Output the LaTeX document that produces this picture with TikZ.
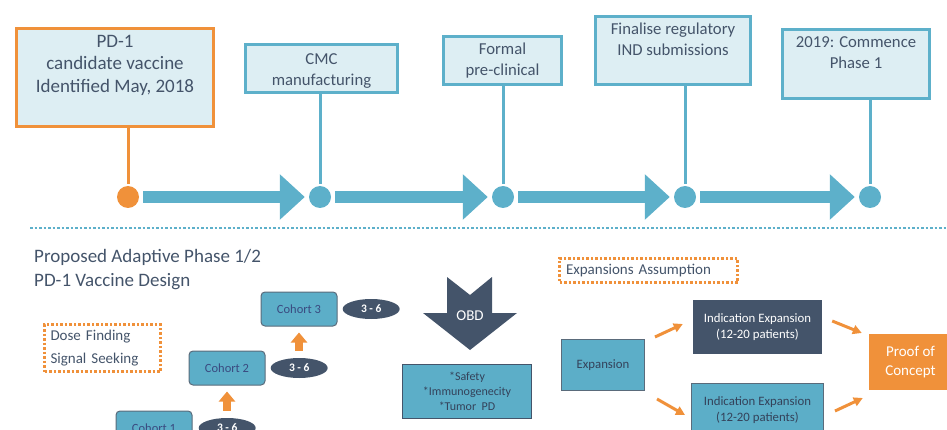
\documentclass[tikz,border=0pt]{standalone}
\usepackage{fontspec}
\setmainfont{Carlito}
\usetikzlibrary{positioning,shapes.geometric,arrows.meta}
\definecolor{tlblue}{HTML}{5DB0CA}
\definecolor{boxblue}{HTML}{5CAEC8}
\definecolor{lightfill}{HTML}{DDEEF3}
\definecolor{orangeac}{HTML}{F0913A}
\definecolor{slate}{HTML}{44546A}
\definecolor{textgray}{HTML}{44546A}
\definecolor{darktext}{HTML}{34425A}
\definecolor{cohorttext}{HTML}{3A4A80}
\definecolor{cohortedge}{HTML}{5A6B7B}
\begin{document}
\begin{tikzpicture}[x=1pt, y=-1pt,
	tlbox/.style={draw=tlblue, line width=3pt, fill=lightfill, inner sep=0pt},
	tltext/.style={anchor=north, align=center, inner sep=0pt, yshift=-8pt,
		text=textgray, font=\fontsize{16.7}{21}\selectfont},
	tldot/.style={circle, fill=tlblue, minimum size=22pt, inner sep=0pt},
	tlarrow/.style={draw=tlblue, line width=12pt,
		-{Triangle[length=25pt,width=44pt]}, shorten <=4pt, shorten >=4pt},
	tlstem/.style={draw=tlblue, line width=3pt, shorten >=2pt},
	cohort/.style={draw=cohortedge, fill=boxblue, rounded corners=4pt, line width=1pt,
		minimum width=76pt, minimum height=34pt, text=cohorttext,
		font=\fontsize{12.5}{15}\selectfont},
	count/.style={ellipse, fill=slate, minimum width=57pt, minimum height=20pt,
		inner sep=0pt, text=white, font=\fontsize{11.5}{13}\selectfont\bfseries},
	steparrow/.style={draw=orangeac, line width=8pt, -{Triangle[length=10pt,width=16pt]}},
	notebox/.style={draw=orangeac, line width=2.5pt, dotted, inner xsep=6pt,
		align=left, text=textgray},
	bluebox/.style={draw=cohortedge, fill=boxblue, line width=1pt, align=center,
		text=darktext, font=\fontsize{12.8}{16}\selectfont},
	slatebox/.style={fill=slate, align=center, text=white,
		font=\fontsize{12.8}{16}\selectfont},
	flowarrow/.style={draw=orangeac, line width=3pt, -{Triangle[length=9pt,width=9pt]}}]
	\useasboundingbox (0,0) rectangle (947,430);
	\clip (0,0) rectangle (947,430);

	% timeline
	\node[tlbox, draw=orangeac, minimum width=197pt, minimum height=98pt] (b1) at (115,77.5) {};
	\node[tltext, font=\fontsize{19}{22.5}\selectfont] (b1t) at (b1.north)
		{PD-1\\candidate vaccine\\Identified May, 2018};
	\node[tlbox, minimum width=152pt, minimum height=48pt] (b2) at (321.5,68.5) {};
	\node[tltext, yshift=-2pt] (b2t) at (b2.north) {CMC\\manufacturing};
	\node[tlbox, minimum width=118pt, minimum height=48pt] (b3) at (502.5,60.5) {};
	\node[tltext] (b3t) at (b3.north) {Formal\\pre-clinical};
	\node[tlbox, minimum width=155pt, minimum height=68pt] (b4) at (673,50.5) {};
	\node[tltext] (b4t) at (b4.north) {Finalise regulatory\\IND submissions};
	\node[tlbox, minimum width=147pt, minimum height=69pt] (b5) at (856,64) {};
	\node[tltext] (b5t) at (b5.north) {2019: Commence\\Phase 1};

	\node[tldot, fill=orangeac] (d1) at (128,197) {};
	\node[tldot] (d2) at (320,197) {};
	\node[tldot] (d3) at (503,197) {};
	\node[tldot] (d4) at (685,197) {};
	\node[tldot] (d5) at (870,197) {};

	\draw[tlstem, draw=orangeac] (d1 |- b1.south) -- (d1.north);
	\draw[tlstem] (d2 |- b2.south) -- (d2.north);
	\draw[tlstem] (d3 |- b3.south) -- (d3.north);
	\draw[tlstem] (d4 |- b4.south) -- (d4.north);
	\draw[tlstem] (d5 |- b5.south) -- (d5.north);

	\draw[tlarrow] (d1) -- (d2);
	\draw[tlarrow] (d2) -- (d3);
	\draw[tlarrow] (d3) -- (d4);
	\draw[tlarrow] (d4) -- (d5);

	\draw[tlblue, line width=2.5pt, dotted] (30,228) -- (947,228);

	% design
	\node[anchor=north west, inner sep=0pt, align=left, text=textgray,
		font=\fontsize{19}{24}\selectfont] (title) at (34,249)
		{Proposed Adaptive Phase 1/2\\PD-1 Vaccine Design};
	\node[notebox, minimum width=116pt, minimum height=47pt, text width=104pt,
		font=\fontsize{15}{23}\selectfont] (dose) at (102.5,348) {Dose Finding\\Signal Seeking};

	\node[cohort] (c1) at (154,428) {Cohort 1};
	\node[cohort] (c2) at (227,368) {Cohort 2};
	\node[cohort] (c3) at (299,309) {Cohort 3};
	\node[count, right=6pt of c1] (n1) {3 - 6};
	\node[count, right=5pt of c2] (n2) {3 - 6};
	\node[count, right=5pt of c3] (n3) {3 - 6};
	\draw[steparrow] (c1.north -| c2.south) -- ([yshift=-6pt]c2.south);
	\draw[steparrow] (c2.north -| c3.south) -- ([yshift=-6pt]c3.south);

	\fill[slate] (447,277) -- (470,295) -- (492,277) -- (492,313) -- (517,313)
		-- (470,350) -- (423,313) -- (447,313) -- cycle;
	\node[text=white, font=\fontsize{15}{18}\selectfont] (obd) at (470,316) {OBD};
	\node[bluebox, draw=slate, minimum width=129pt, minimum height=54pt,
		font=\fontsize{12}{15}\selectfont] (crit) at (467,391.5)
		{*Safety\\*Immunogenecity\\*Tumor\ \ PD};

	% expansion
	\node[notebox, minimum width=178pt, minimum height=24pt, text width=165pt,
		font=\fontsize{15}{18}\selectfont] (assume) at (648.5,270.5) {Expansions Assumption};
	\node[bluebox, minimum width=83pt, minimum height=51pt] (exp) at (603,365) {Expansion};
	\node[slatebox, minimum width=129pt, minimum height=54pt] (ie1) at (757.5,327)
		{Indication Expansion\\(12-20 patients)};
	\node[bluebox, minimum width=132pt, minimum height=53pt] (ie2) at (757.5,410)
		{Indication Expansion\\(12-20 patients)};
	\node[fill=orangeac, text=white, align=center, minimum width=83pt, minimum height=56pt,
		font=\fontsize{15}{19}\selectfont] (poc) at (910.5,362) {Proof of\\Concept};

	\draw[flowarrow] ([xshift=10pt,yshift=28pt]exp.east) -- ([xshift=-10pt,yshift=3pt]ie1.west);
	\draw[flowarrow] ([xshift=12pt,yshift=-34pt]exp.east) -- ([xshift=-6pt,yshift=-5pt]ie2.west);
	\draw[flowarrow] ([xshift=10pt,yshift=6pt]ie1.east) -- ([xshift=-7pt,yshift=29pt]poc.west);
	\draw[flowarrow] ([xshift=11pt,yshift=-1pt]ie2.east) -- ([xshift=-6pt,yshift=-36pt]poc.west);
\end{tikzpicture}
\end{document}
